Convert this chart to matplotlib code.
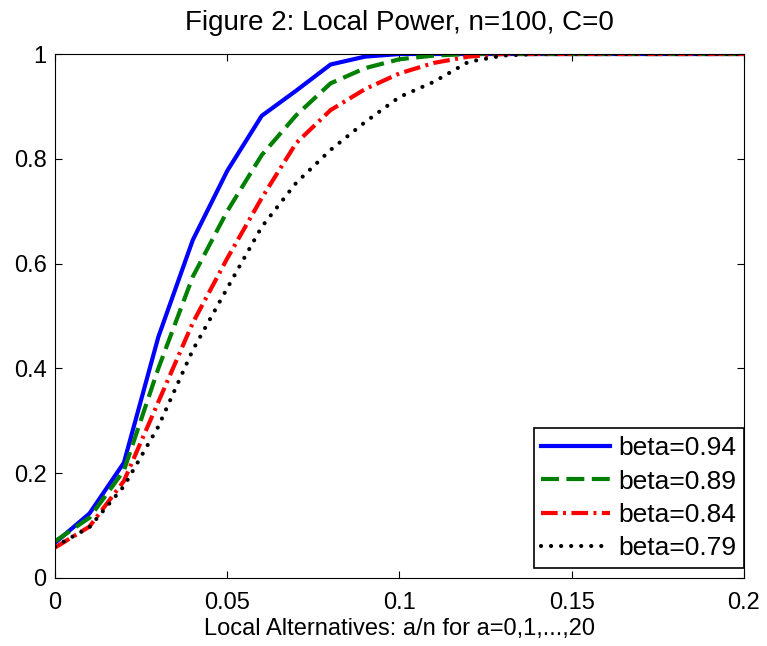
import numpy as np
import matplotlib
matplotlib.use("Agg")
import matplotlib.pyplot as plt

plt.rcParams['font.family'] = ['Liberation Sans', 'DejaVu Sans']

# local alternatives a/n, a = 0..20
x = np.arange(21) / 100.0

# power curves
power_094 = [0.067, 0.123, 0.22, 0.46, 0.645, 0.777, 0.882, 0.93, 0.98, 0.995, 1.0,
             1.0, 1.0, 1.0, 1.0, 1.0, 1.0, 1.0, 1.0, 1.0, 1.0]
power_089 = [0.07, 0.115, 0.205, 0.40, 0.575, 0.70, 0.807, 0.883, 0.944, 0.973, 0.99,
             0.997, 1.0, 1.0, 1.0, 1.0, 1.0, 1.0, 1.0, 1.0, 1.0]
power_084 = [0.058, 0.098, 0.185, 0.336, 0.487, 0.61, 0.725, 0.83, 0.893, 0.933, 0.963,
             0.983, 0.995, 1.0, 1.0, 1.0, 1.0, 1.0, 1.0, 1.0, 1.0]
power_079 = [0.06, 0.097, 0.175, 0.289, 0.435, 0.553, 0.67, 0.754, 0.817, 0.87, 0.918,
             0.947, 0.985, 0.997, 1.0, 1.0, 1.0, 1.0, 1.0, 1.0, 1.0]
labels = ['beta=0.94', 'beta=0.89', 'beta=0.84', 'beta=0.79']

fig = plt.figure(figsize=(7.67, 6.46), dpi=100)
ax = fig.add_axes([0.0717, 0.1053, 0.8983, 0.8111])

ax.plot(x, power_094, color='#0000ff', lw=3, ls='-', label=labels[0])
ax.plot(x, power_089, color='#008000', lw=3, ls=(0, (4.3, 1.8)), label=labels[1])
ax.plot(x, power_084, color='#ff0000', lw=3, ls=(0, (4.0, 1.3, 0.7, 1.3)), label=labels[2])
ax.plot(x, power_079, color='black', lw=3, ls=(0, (0.01, 2.4)),
        dash_capstyle='round', label=labels[3])

ax.set_xlim(0, 0.2)
ax.set_ylim(0, 1)
ax.set_xticks([0, 0.05, 0.1, 0.15, 0.2])
ax.set_xticklabels(['0', '0.05', '0.1', '0.15', '0.2'])
ax.set_yticks([0, 0.2, 0.4, 0.6, 0.8, 1])
ax.set_yticklabels(['0', '0.2', '0.4', '0.6', '0.8', '1'])
ax.tick_params(direction='in', top=True, right=True, labelsize=17, length=5)
ax.tick_params(axis='x', pad=10)
ax.tick_params(axis='y', pad=6)

ax.set_title('Figure 2: Local Power, n=100, C=0', fontsize=20, pad=17)
ax.set_xlabel('Local Alternatives: a/n for a=0,1,...,20', fontsize=17, labelpad=3)

leg = ax.legend(loc='lower right', bbox_to_anchor=(1.0, 0.019), fontsize=19,
                handlelength=2.6, borderaxespad=0.0, fancybox=False, framealpha=1,
                edgecolor='black', labelspacing=0.35, handletextpad=0.3,
                borderpad=0.3)
leg.get_frame().set_linewidth(1.2)

fig.savefig('out.png', dpi=100)
